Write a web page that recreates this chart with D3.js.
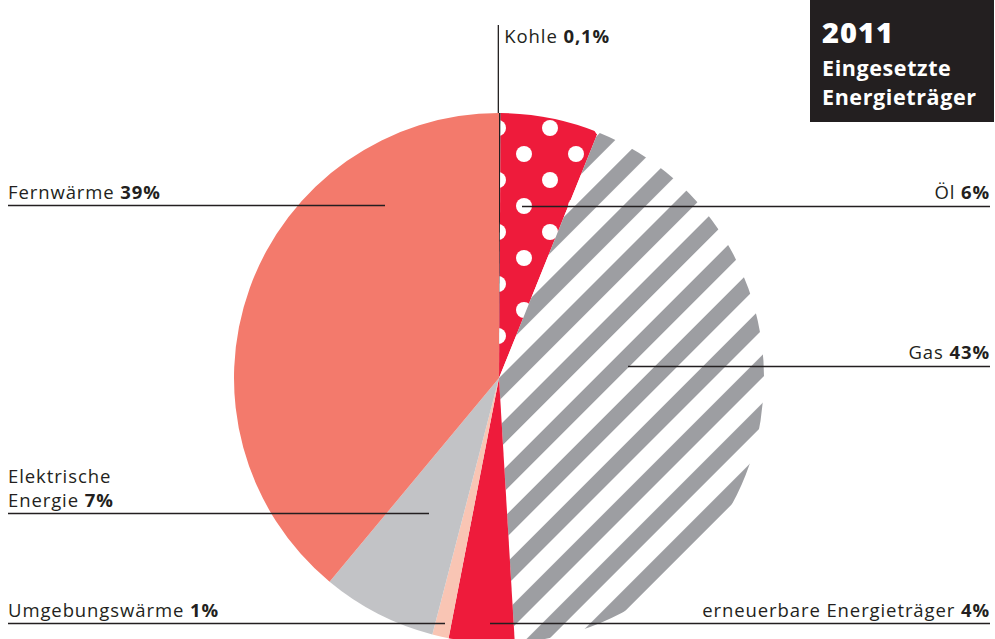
<!DOCTYPE html>
<html>
<head>
<meta charset="utf-8">
<script src="https://cdn.jsdelivr.net/npm/d3@7"></script>
<style>
  body { margin: 0; background: #fff; }
  text { font-family: "Open Sans", "DejaVu Sans", sans-serif; fill: #231f20; }
  .lbl { font-size: 18.5px; letter-spacing: 0.9px; }
</style>
</head>
<body>
<div id="chart"></div>
<script>
// data
var categories = ["Kohle", "Öl", "Gas", "erneuerbare Energieträger", "Umgebungswärme", "Elektrische Energie", "Fernwärme"];
var shares = [0.1, 6, 43, 4, 1, 7, 39];
var shareLabels = ["0,1%", "6%", "43%", "4%", "1%", "7%", "39%"];
var titleLines = ["2011", "Eingesetzte", "Energieträger"];

var width = 995, height = 639,
    cx = 499, cy = 378, radius = 265;

var fills = ["#231f20", "url(#dots)", "url(#stripes)", "#ee1b3b", "#f9c5b4", "#c2c3c6", "#f37a6c"];

// label layout: side, text baselines, leader line y and where it stops
var labelLayout = [
    null,
    { side: "right", lines: [[199, ""]], lineY: 206.5, x0: 522 },
    { side: "right", lines: [[359, ""]], lineY: 366.5, x0: 628 },
    { side: "right", lines: [[617, ""]], lineY: 623.5, x0: 490 },
    { side: "left", lines: [[617, ""]], lineY: 623.5, x1: 445 },
    { side: "left", lines: [[483, "Elektrische"], [507, "Energie"]], lineY: 513.5, x1: 429 },
    { side: "left", lines: [[199, ""]], lineY: 205.5, x1: 385 }
];

var data = categories.map((c, i) => ({ name: c, value: shares[i], label: shareLabels[i], idx: i }));

var svg = d3.select("#chart").append("svg")
    .attr("width", width)
    .attr("height", height);

var defs = svg.append("defs");

// red with white dots
var dots = defs.append("pattern")
    .attr("id", "dots")
    .attr("patternUnits", "userSpaceOnUse")
    .attr("x", -1).attr("y", -250)
    .attr("width", 52).attr("height", 52);
dots.append("rect").attr("width", 52).attr("height", 52).attr("fill", "#ee1b3b");
[[0, 0], [52, 0], [0, 52], [52, 52], [26, 26]].forEach(p => {
    dots.append("circle").attr("cx", p[0]).attr("cy", p[1]).attr("r", 8).attr("fill", "#fff");
});

// grey diagonal stripes
var stripes = defs.append("pattern")
    .attr("id", "stripes")
    .attr("patternUnits", "userSpaceOnUse")
    .attr("width", 34).attr("height", 34)
    .attr("patternTransform", "rotate(45)");
stripes.append("rect").attr("width", 34).attr("height", 34).attr("fill", "#fff");
stripes.append("rect").attr("width", 16).attr("height", 34).attr("fill", "#9d9ea2");

var pie = d3.pie()
    .sort(null)
    .value(d => d.value);

var arc = d3.arc()
    .outerRadius(radius)
    .innerRadius(0);

var g = svg.append("g")
    .attr("transform", "translate(" + cx + "," + cy + ")");

g.selectAll(".arc")
    .data(pie(data))
    .enter()
    .append("path")
    .attr("class", "arc")
    .attr("d", arc)
    .attr("fill", d => fills[d.data.idx]);

// Kohle: tiny slice, so a leader straight up
var kohle = pie(data)[0];
var kx = cx + Math.sin((kohle.startAngle + kohle.endAngle) / 2) * radius - 1.5;
svg.append("line")
    .attr("x1", kx).attr("x2", kx)
    .attr("y1", 25).attr("y2", cy - radius)
    .attr("stroke", "#231f20").attr("stroke-width", 1.3);
var kt = svg.append("text").attr("class", "lbl").attr("x", kx + 6).attr("y", 43);
kt.append("tspan").text(categories[0] + " ");
kt.append("tspan").style("font-weight", "700").text(shareLabels[0]);

// other labels
data.forEach((d, i) => {
    var L = labelLayout[i];
    if (!L) return;
    var lx0 = L.side === "left" ? 8 : L.x0,
        lx1 = L.side === "left" ? L.x1 : 990;
    svg.append("line")
        .attr("x1", lx0).attr("x2", lx1)
        .attr("y1", L.lineY).attr("y2", L.lineY)
        .attr("stroke", "#231f20").attr("stroke-width", 1.3);
    L.lines.forEach((ln, k) => {
        var last = k === L.lines.length - 1;
        var t = svg.append("text")
            .attr("class", "lbl")
            .attr("x", L.side === "left" ? 8 : 990)
            .attr("y", ln[0])
            .attr("text-anchor", L.side === "left" ? "start" : "end");
        if (!last) { t.text(ln[1]); return; }
        t.append("tspan").text((ln[1] || d.name) + "\u00a0");
        t.append("tspan").style("font-weight", "700").text(d.label);
    });
});

// title box
svg.append("rect")
    .attr("x", 810).attr("y", 0)
    .attr("width", 184).attr("height", 122)
    .attr("fill", "#231f20");
svg.append("text").attr("x", 822).attr("y", 43)
    .style("font-size", "29px").style("font-weight", "800").style("fill", "#fff")
    .style("letter-spacing", "1px")
    .text(titleLines[0]);
[76, 105].forEach((y, k) => {
    svg.append("text").attr("x", 822).attr("y", y)
        .style("font-size", "21.5px").style("font-weight", "700").style("fill", "#fff")
        .style("letter-spacing", "0.6px")
        .text(titleLines[k + 1]);
});
</script>
</body>
</html>
